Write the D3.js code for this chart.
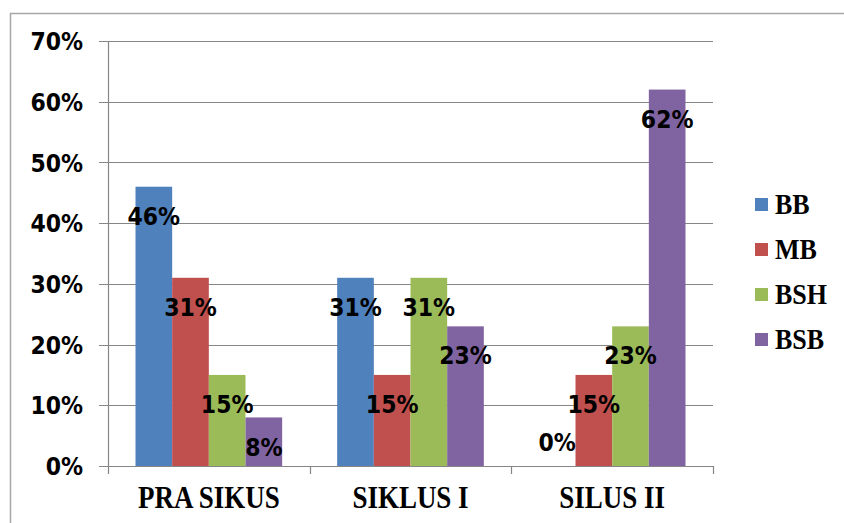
<!DOCTYPE html>
<html lang="id">
<head>
    <meta charset="utf-8">
    <title>Chart</title>
    <script src="https://d3js.org/d3.v7.min.js"></script>
    <style>
        body { margin: 0; background: #fff; }
        .tick-label { font-family: "DejaVu Sans", Verdana, sans-serif; font-weight: bold; font-size: 22px; fill: #000; }
        .cat-label { font-family: "Liberation Serif", "Times New Roman", serif; font-weight: bold; font-size: 27px; fill: #000; }
        .legend-label { font-family: "Liberation Serif", "Times New Roman", serif; font-weight: bold; font-size: 26px; fill: #000; }
        .data-label { font-family: "DejaVu Sans", Verdana, sans-serif; font-weight: bold; font-size: 22px; fill: #000; }
    </style>
</head>
<body>
<div id="container"></div>
<script>
    // data
    const categories = ["PRA SIKUS", "SIKLUS I", "SILUS II"];
    const series = ["BB", "MB", "BSH", "BSB"];
    const colors = ["#4f81bd", "#c0504d", "#9bbb59", "#8064a2"];
    const values = [
        [46, 31, 15, 8],   // PRA SIKUS
        [31, 15, 31, 23],  // SIKLUS I
        [0, 15, 23, 62]    // SILUS II
    ];
    const yTicks = [0, 10, 20, 30, 40, 50, 60, 70];

    const w = 844, h = 523;
    const svg = d3.select("#container").append("svg")
        .attr("width", w).attr("height", h);

    // the source picture is stretched a bit vertically, so is the text here
    const stretch = (px, py, sy) => "translate(" + px + "," + py + ") scale(1," + sy + ")";

    // outer chart border (runs off the right and bottom edges)
    svg.append("rect")
        .attr("x", 10.5).attr("y", 13.5)
        .attr("width", 850).attr("height", 530)
        .attr("fill", "none").attr("stroke", "#a6a6a6").attr("stroke-width", 1.5);

    const plotL = 108, plotR = 713, plotT = 41, plotB = 466;
    const x = d3.scaleBand().domain(categories).range([plotL, plotR]);
    const xs = d3.scaleBand().domain(series).range([0, x.bandwidth()]).paddingOuter(0.75);
    const y = d3.scaleLinear().domain([0, 70]).range([plotB, plotT]);
    const color = d3.scaleOrdinal().domain(series).range(colors);

    // gridlines + y ticks
    svg.append("g").selectAll("line").data(yTicks).enter().append("line")
        .attr("x1", plotL - 9).attr("x2", plotR)
        .attr("y1", d => Math.round(y(d)) + 0.5).attr("y2", d => Math.round(y(d)) + 0.5)
        .attr("stroke", "#868686").attr("stroke-width", 1.2);

    svg.append("g").selectAll("text").data(yTicks).enter().append("text")
        .attr("class", "tick-label")
        .attr("transform", d => stretch(83, y(d), 1.15))
        .attr("text-anchor", "end").attr("dy", "0.36em")
        .text(d => d + "%");

    // y axis line
    svg.append("line")
        .attr("x1", plotL + 0.5).attr("x2", plotL + 0.5)
        .attr("y1", plotT).attr("y2", plotB)
        .attr("stroke", "#868686").attr("stroke-width", 1.2);

    // bars
    const groups = svg.append("g").selectAll("g").data(values).enter().append("g")
        .attr("transform", (d, i) => "translate(" + x(categories[i]) + ",0)");

    groups.selectAll("rect").data(d => d.map((v, j) => ({ key: series[j], value: v })))
        .enter().append("rect")
        .attr("x", d => xs(d.key))
        .attr("y", d => y(d.value))
        .attr("width", xs.bandwidth())
        .attr("height", d => plotB - y(d.value))
        .attr("fill", d => color(d.key));

    // data labels
    groups.selectAll("text").data(d => d.map((v, j) => ({ key: series[j], value: v })))
        .enter().append("text")
        .attr("class", "data-label")
        .attr("transform", d => stretch(xs(d.key) + xs.bandwidth() / 2,
            d.value === 0 ? y(d.value) - 24 : y(d.value) + 29, 1.15))
        .attr("text-anchor", "middle").attr("dy", "0.36em")
        .text(d => d.value + "%");

    // x axis line + ticks
    svg.append("line")
        .attr("x1", plotL).attr("x2", plotR)
        .attr("y1", plotB + 0.5).attr("y2", plotB + 0.5)
        .attr("stroke", "#868686").attr("stroke-width", 1.2);

    const bounds = categories.map(c => x(c)).concat([plotR]);
    svg.append("g").selectAll("line").data(bounds).enter().append("line")
        .attr("x1", d => Math.round(d) + 0.5).attr("x2", d => Math.round(d) + 0.5)
        .attr("y1", plotB).attr("y2", plotB + 8)
        .attr("stroke", "#868686").attr("stroke-width", 1.2);

    svg.append("g").selectAll("text").data(categories).enter().append("text")
        .attr("class", "cat-label")
        .attr("transform", d => stretch(x(d) + x.bandwidth() / 2, 508, 1.15))
        .attr("text-anchor", "middle")
        .text(d => d);

    // legend
    const legend = svg.append("g").selectAll("g").data(series).enter().append("g")
        .attr("transform", (d, i) => "translate(755," + (205 + i * 45) + ")");

    legend.append("rect")
        .attr("x", 0).attr("y", -7).attr("width", 13).attr("height", 13)
        .attr("fill", d => color(d));

    legend.append("text")
        .attr("class", "legend-label")
        .attr("transform", stretch(20, 0, 1.1))
        .attr("dy", "0.33em")
        .text(d => d);
</script>
</body>
</html>
